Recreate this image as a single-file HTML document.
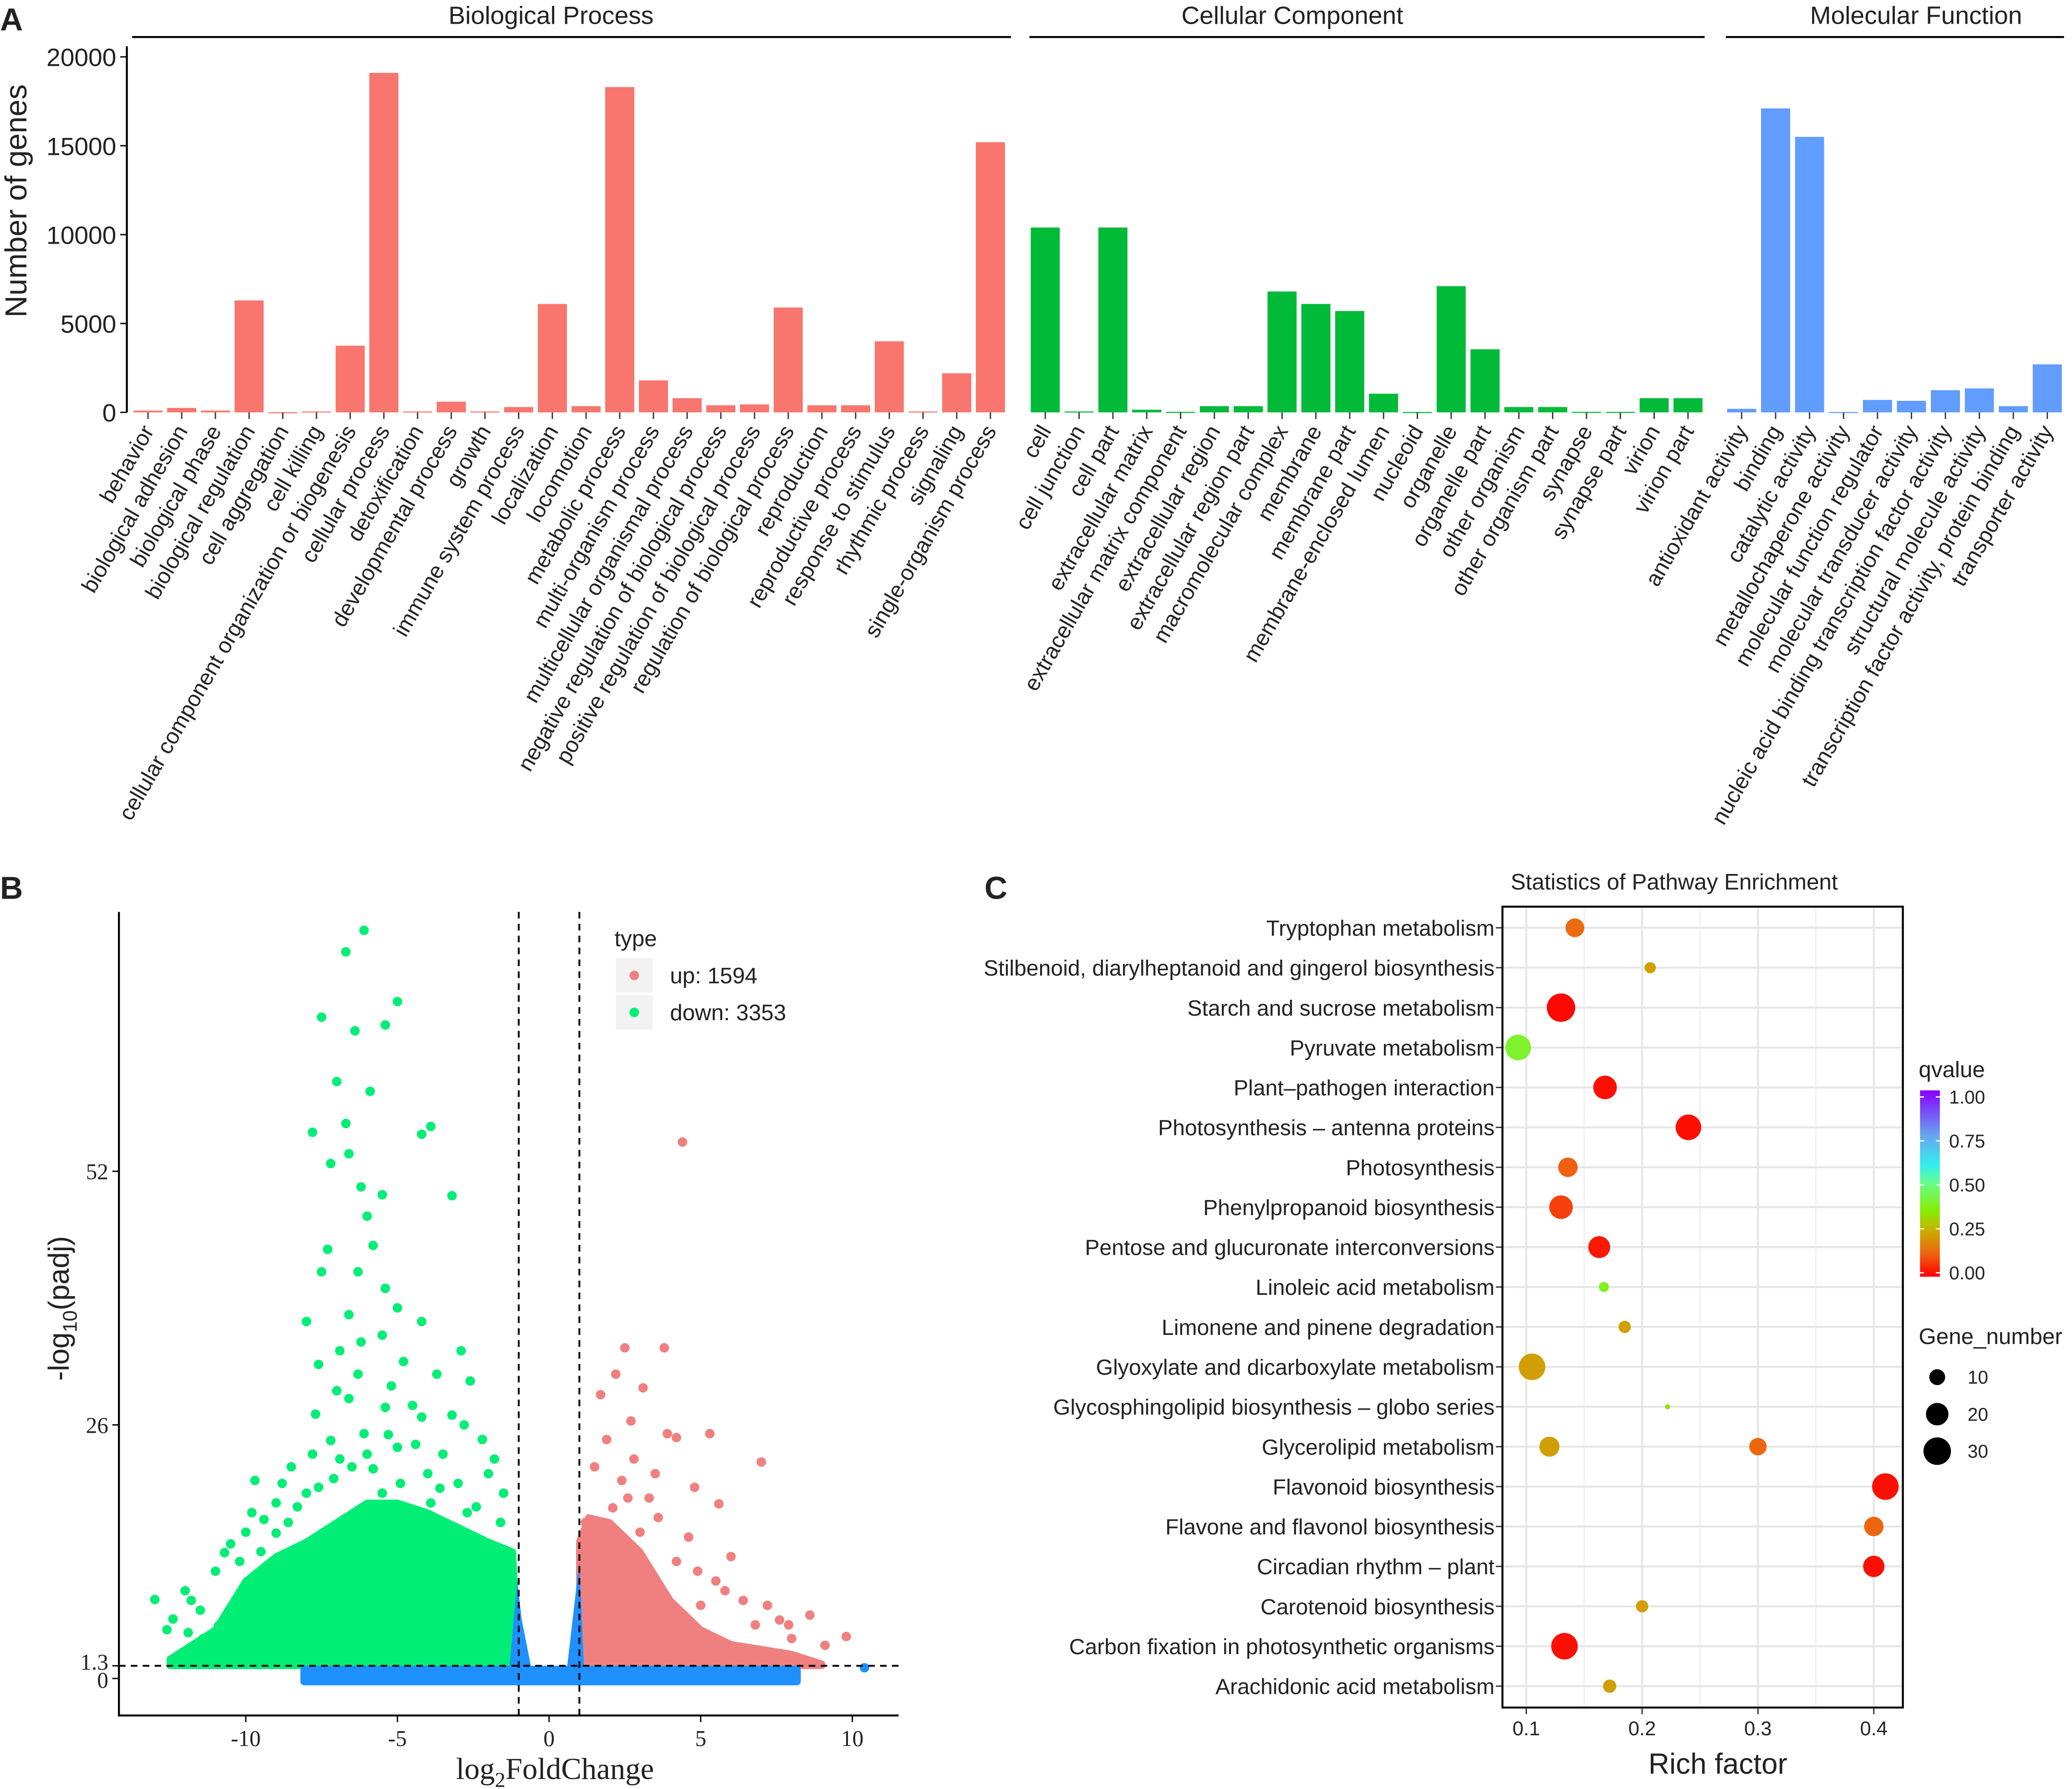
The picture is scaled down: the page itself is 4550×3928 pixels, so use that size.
<!DOCTYPE html>
<html><head><meta charset="utf-8"><style>
html,body{margin:0;padding:0;background:#fff;}
svg{display:block;}
text{font-family:"Liberation Sans",sans-serif;fill:#222;}
.serif{font-family:"Liberation Serif",serif;}
</style></head><body>
<svg id="root" width="4550" height="3928" viewBox="0 0 1568 1353.6" xmlns="http://www.w3.org/2000/svg">
<rect width="1568" height="1354" fill="#fff"/>
<g id="gA"></g>
<g id="gB"></g>
<g id="gC"></g>
</svg>
<script>
// ---- Panel A data ----
const bpCats=["behavior","biological adhesion","biological phase","biological regulation","cell aggregation","cell killing","cellular component organization or biogenesis","cellular process","detoxification","developmental process","growth","immune system process","localization","locomotion","metabolic process","multi-organism process","multicellular organismal process","negative regulation of biological process","positive regulation of biological process","regulation of biological process","reproduction","reproductive process","response to stimulus","rhythmic process","signaling","single-organism process"];
const bpVals=[100,250,100,6300,10,50,3750,19100,50,600,50,300,6100,350,18300,1800,800,400,450,5900,400,400,4000,50,2200,15200];
const ccCats=["cell","cell junction","cell part","extracellular matrix","extracellular matrix component","extracellular region","extracellular region part","macromolecular complex","membrane","membrane part","membrane-enclosed lumen","nucleoid","organelle","organelle part","other organism","other organism part","synapse","synapse part","virion","virion part"];
const ccVals=[10400,50,10400,150,30,350,350,6800,6100,5700,1050,20,7100,3550,300,300,30,30,800,800];
const mfCats=["antioxidant activity","binding","catalytic activity","metallochaperone activity","molecular function regulator","molecular transducer activity","nucleic acid binding transcription factor activity","structural molecule activity","transcription factor activity, protein binding","transporter activity"];
const mfVals=[200,17100,15500,20,700,650,1250,1350,350,2700];
const aTicks=[0,5000,10000,15000,20000];

// ---- Panel B data ----
const greenPts=[[-6.1,76.7],[-6.7,74.5],[-7.5,67.8],[-5.0,69.4],[-5.4,67],[-6.4,66.4],[-7.0,61.2],[-5.9,60.2],[-6.7,56.9],[-7.8,56],[-3.9,56.6],[-4.2,55.8],[-6.6,53.8],[-7.2,52.8],[-6.2,50.4],[-5.5,49.6],[-3.2,49.5],[-6.0,47.4],[-5.8,44.4],[-7.5,41.7],[-6.3,41.7],[-5.4,40],[-6.6,37.3],[-8.0,36.6],[-4.2,36.6],[-5.5,35.2],[-6.9,33.6],[-2.9,33.6],[-4.8,32.5],[-7.6,32.2],[-6.3,31.2],[-3.7,31.2],[-2.6,30.5],[-6.6,28.7],[-5.4,27.8],[-7.7,27.1],[-4.2,26.8],[-2.8,26],[-6.1,25.1],[-7.2,24.4],[-5,23.7],[-3.5,23],[-8.5,21.7],[-6.5,21.7],[-2.0,21],[-9.7,20.3],[-7.6,19.6],[-5.5,19],[-10.5,13.8],[-10.7,12.9],[-13,8.1],[-12.4,6.1],[-11.9,4.7],[-11.4,4.1],[-10.9,5.4],[-9.4,16.3],[-9,14.9],[-1.5,19],[-2.4,17.6],[-4.6,16.3],[-8.3,17.6],[-7.0,29.5],[-5.2,30],[-4.5,28],[-3.2,27],[-6.9,22.5],[-4.0,21],[-3.0,20],[-5.8,21.5],[-8.0,19],[-9.0,18],[-10.0,15],[-11.0,11],[-12.0,9],[-11.5,7],[-6.2,34.5],[-5.0,38],[-7.3,44],[-4.4,24],[-2.2,24.5],[-1.8,22.5],[-3.6,19.5],[-7.8,23],[-8.8,20],[-9.8,17],[-10.2,12],[-9.5,13],[-11.8,8],[-12.6,5],[-8.6,16],[-7.1,20.5],[-4.9,20],[-3.9,18],[-2.7,17],[-1.6,16],[-6.0,23],[-5.3,25]];
const redPts=[[4.4,55],[3.8,33.9],[2.5,33.9],[2.2,31.2],[3.1,29.8],[1.7,29.1],[3.9,25.1],[4.2,24.7],[5.3,25.1],[2.7,26.4],[7.0,22.2],[1.5,21.7],[3.5,21],[2.4,20.3],[5.6,17.9],[4.8,19.6],[7.2,7.5],[8.6,6.5],[9.1,3.4],[9.8,4.3],[8.0,4.1],[1.2,16],[2.1,17.5],[3.0,15],[4.2,12],[5.5,10],[6.4,8],[7.6,6],[3.3,18.5],[2.8,22.5],[1.9,24.5],[4.6,14.5],[6.0,12.5],[5.0,7.5],[6.8,5.5],[3.6,16.5],[4.9,11],[2.6,18.5],[5.8,9],[7.9,5.5]];
const bluePts=[[10.4,1.1]];
const greenEnvX=[-12.5,-11,-10,-9,-8,-7,-6,-5,-4,-3,-2,-1.2,-1.0];
const greenEnvY=[2,5,10,12.5,14,16,18,18,17,15.5,14,13,2];
const redEnvX=[1,1.3,2,3,4,5,6,7,8,9];
const redEnvY=[14,16.5,16,13,8,5,3.5,3,2.5,1.5];
const bTicksX=[-10,-5,0,5,10];
const bTicksY=[0,1.3,26,52];

// ---- Panel C data ----
const pathways=["Tryptophan metabolism","Stilbenoid, diarylheptanoid and gingerol biosynthesis","Starch and sucrose metabolism","Pyruvate metabolism","Plant\u2013pathogen interaction","Photosynthesis \u2013 antenna proteins","Photosynthesis","Phenylpropanoid biosynthesis","Pentose and glucuronate interconversions","Linoleic acid metabolism","Limonene and pinene degradation","Glyoxylate and dicarboxylate metabolism","Glycosphingolipid biosynthesis \u2013 globo series","Glycerolipid metabolism","Flavonoid biosynthesis","Flavone and flavonol biosynthesis","Circadian rhythm \u2013 plant","Carotenoid biosynthesis","Carbon fixation in photosynthetic organisms","Arachidonic acid metabolism"];
const ptRow=[0,1,2,3,4,5,6,7,8,9,10,11,12,13,13,14,15,16,17,18,19];
const ptRich=[0.142,0.207,0.13,0.093,0.168,0.24,0.136,0.13,0.163,0.167,0.185,0.105,0.222,0.12,0.3,0.41,0.40,0.40,0.2,0.133,0.172];
const ptQ=[0.14,0.22,0.01,0.4,0.02,0.02,0.12,0.08,0.03,0.38,0.22,0.22,0.33,0.22,0.13,0.02,0.13,0.02,0.22,0.02,0.22];
const ptGenes=[14,5,32,26,22,26,15,22,19,4,6,28,1,16,12,28,15,18,6,28,7];
const cTicks=[0.1,0.2,0.3,0.4];
const sizeLegend=[10,20,30];
const qTicks=[0,0.25,0.5,0.75,1];

const NS="http://www.w3.org/2000/svg";
function mk(tag,parent,attrs,txt){const e=document.createElementNS(NS,tag);for(const k in attrs)e.setAttribute(k,attrs[k]);if(txt!==undefined)e.textContent=txt;parent.appendChild(e);return e;}

// ===== Panel A =====
const gA=document.getElementById('gA');
const yA=v=>312-v*(312-43)/20000;
let t=mk('text',gA,{x:0,y:23,'font-size':24,'font-weight':'bold'},'A');

mk('line',gA,{x1:96,y1:35,x2:96,y2:312,stroke:'#000','stroke-width':1.5});
aTicks.forEach(v=>{
  mk('line',gA,{x1:91,y1:yA(v),x2:96,y2:yA(v),stroke:'#000'});
  const tt=mk('text',gA,{x:88,y:yA(v)+7,'font-size':19,'text-anchor':'end'},String(v));
  
});
t=mk('text',gA,{x:20,y:152,'font-size':23,'text-anchor':'middle',transform:'rotate(-90 20 152)'},'Number of genes');

const groups=[
 {name:'Biological Process',cats:bpCats,vals:bpVals,x0:112,step:25.5,color:'#f8766d',l1:100,l2:765,hx:417},
 {name:'Cellular Component',cats:ccCats,vals:ccVals,x0:791,step:25.6,color:'#00ba38',l1:779,l2:1290,hx:978},
 {name:'Molecular Function',cats:mfCats,vals:mfVals,x0:1318,step:25.7,color:'#619cff',l1:1306,l2:1562,hx:1450}];
groups.forEach(g=>{
  mk('line',gA,{x1:g.l1,y1:28,x2:g.l2,y2:28,stroke:'#000','stroke-width':1.5});
  const h=mk('text',gA,{x:g.hx,y:18,'font-size':19,'text-anchor':'middle'},g.name);
  
  g.cats.forEach((c,i)=>{
    const cx=g.x0+i*g.step;
    const v=g.vals[i];
    const top=yA(v);
    const b=mk('rect',gA,{x:cx-11,y:top,width:22,height:Math.max(312-top,0.8),fill:g.color});
    
    
    mk('line',gA,{x1:cx,y1:312,x2:cx,y2:317,stroke:'#333'});
    const lb=mk('text',gA,{x:cx+5,y:326,'font-size':16.8,'text-anchor':'end',transform:`rotate(-60 ${cx+5} 326)`},c);
    
  });
});

// ===== Panel B =====
const gB=document.getElementById('gB');
const xB=v=>186+(v+10)*22.95;
const yB=v=>1270-v*7.38;
t=mk('text',gB,{x:0,y:680,'font-size':24,'font-weight':'bold'},'B');

let pts=greenEnvX.map((x,i)=>xB(x)+','+yB(greenEnvY[i])).join(' ')+' '+xB(-1.0)+','+yB(1.3)+' '+xB(-12.5)+','+yB(1.3);
t=mk('polygon',gB,{points:pts,fill:'#00ee76',stroke:'#00ee76','stroke-width':5,'stroke-linejoin':'round'});

pts=redEnvX.map((x,i)=>xB(x)+','+yB(redEnvY[i])).join(' ')+' '+xB(9)+','+yB(1.3)+' '+xB(1)+','+yB(1.3);
t=mk('polygon',gB,{points:pts,fill:'#f08080',stroke:'#f08080','stroke-width':5,'stroke-linejoin':'round'});

t=mk('rect',gB,{x:xB(-8.2),y:yB(1.3),width:xB(8.3)-xB(-8.2),height:yB(-0.7)-yB(1.3),fill:'#1e90ff',rx:3});

mk('polygon',gB,{points:`${xB(-1.3)},${yB(1.3)} ${xB(-1.05)},${yB(10)} ${xB(-0.9)},${yB(6)} ${xB(-0.6)},${yB(1.3)}`,fill:'#1e90ff'});
mk('polygon',gB,{points:`${xB(0.6)},${yB(1.3)} ${xB(0.85)},${yB(8)} ${xB(1.0)},${yB(12)} ${xB(1.15)},${yB(1.3)}`,fill:'#1e90ff'});
greenPts.forEach(p=>{const c=mk('circle',gB,{cx:xB(p[0]),cy:yB(p[1]),r:3.6,fill:'#00ee76'});
  });
redPts.forEach(p=>{const c=mk('circle',gB,{cx:xB(p[0]),cy:yB(p[1]),r:3.6,fill:'#f08080'});
  });
bluePts.forEach(p=>{const c=mk('circle',gB,{cx:xB(p[0]),cy:yB(p[1]),r:3.6,fill:'#1e90ff'});
  });
mk('line',gB,{x1:xB(-1),y1:690,x2:xB(-1),y2:1298,stroke:'#000','stroke-dasharray':'5,4','stroke-width':1.4});
mk('line',gB,{x1:xB(1),y1:690,x2:xB(1),y2:1298,stroke:'#000','stroke-dasharray':'5,4','stroke-width':1.4});
mk('line',gB,{x1:90,y1:yB(1.3),x2:680,y2:yB(1.3),stroke:'#000','stroke-dasharray':'5,4','stroke-width':1.4});
mk('polyline',gB,{points:'90,690 90,1298 680,1298',fill:'none',stroke:'#000','stroke-width':1.5});
bTicksX.forEach(v=>{mk('line',gB,{x1:xB(v),y1:1298,x2:xB(v),y2:1303,stroke:'#000'});
  const tt=mk('text',gB,{x:xB(v),y:1321,'font-size':17,'text-anchor':'middle',class:'serif'},String(v));
  });
bTicksY.forEach(v=>{mk('line',gB,{x1:85,y1:yB(v),x2:90,y2:yB(v),stroke:'#000'});
  const tt=mk('text',gB,{x:82,y:yB(v)+(v===0?7:v===1.3?3:6),'font-size':17,'text-anchor':'end',class:'serif'},String(v));
  });
t=mk('text',gB,{x:420,y:1346,'font-size':23,'text-anchor':'middle',class:'serif'});

t.innerHTML='log<tspan font-size="16" dy="6">2</tspan><tspan dy="-6">FoldChange</tspan>';
t=mk('text',gB,{x:52,y:990,'font-size':22,'text-anchor':'middle',transform:'rotate(-90 52 990)'});

t.innerHTML='-log<tspan font-size="15" dy="6">10</tspan><tspan dy="-6">(padj)</tspan>';
t=mk('text',gB,{x:465,y:716,'font-size':17},'type');

[['up: 1594','#f08080',738],['down: 3353','#00ee76',766]].forEach(l=>{
  mk('rect',gB,{x:466,y:l[2]-13,width:28,height:26,fill:'#f2f2f2'});
  mk('circle',gB,{cx:480,cy:l[2],r:3.6,fill:l[1]});
  const tt=mk('text',gB,{x:507,y:l[2]+6,'font-size':17},l[0]);
  });

// ===== Panel C =====
const gC=document.getElementById('gC');
const xC=v=>1155+(v-0.1)*876.7;
const yC=i=>702+i*30.2;
const rC=n=>Math.sqrt(n)*1.9;
const stops=[[0,[255,0,0]],[0.12,[240,96,16]],[0.25,[200,176,0]],[0.35,[136,236,0]],[0.5,[102,255,136]],[0.6,[51,238,238]],[0.75,[102,170,238]],[1,[136,0,255]]];
function qcol(q){for(let i=1;i<stops.length;i++){if(q<=stops[i][0]){const a=stops[i-1],b=stops[i];const f=(q-a[0])/(b[0]-a[0]);const c=a[1].map((v,k)=>Math.round(v+(b[1][k]-v)*f));return `rgb(${c})`;}}return 'rgb(136,0,255)';}
t=mk('text',gC,{x:745,y:680,'font-size':24,'font-weight':'bold'},'C');

t=mk('text',gC,{x:1267,y:673,'font-size':17,'text-anchor':'middle'},'Statistics of Pathway Enrichment');

[0.15,0.25,0.35].forEach(v=>mk('line',gC,{x1:xC(v),y1:686,x2:xC(v),y2:1292,stroke:'#f0f0f0','stroke-width':1}));
cTicks.forEach(v=>mk('line',gC,{x1:xC(v),y1:686,x2:xC(v),y2:1292,stroke:'#e6e6e6','stroke-width':1.5}));
pathways.forEach((p,i)=>{mk('line',gC,{x1:1137,y1:yC(i),x2:1440,y2:yC(i),stroke:'#e6e6e6','stroke-width':1.5});
  mk('line',gC,{x1:1132,y1:yC(i),x2:1137,y2:yC(i),stroke:'#333'});
  const tt=mk('text',gC,{x:1131,y:yC(i)+6,'font-size':16.6,'text-anchor':'end'},p);
  });
ptRow.forEach((r,i)=>{const c=mk('circle',gC,{cx:xC(ptRich[i]),cy:yC(r),r:rC(ptGenes[i]),fill:qcol(ptQ[i])});
  });
mk('rect',gC,{x:1137,y:686,width:303,height:606,fill:'none',stroke:'#000','stroke-width':1.5});
cTicks.forEach(v=>{mk('line',gC,{x1:xC(v),y1:1292,x2:xC(v),y2:1297,stroke:'#333'});
  const tt=mk('text',gC,{x:xC(v),y:1313,'font-size':15,'text-anchor':'middle'},String(v));
  });
t=mk('text',gC,{x:1300,y:1342,'font-size':22,'text-anchor':'middle'},'Rich factor');

t=mk('text',gC,{x:1452,y:815,'font-size':17},'qvalue');

const defs=mk('defs',gC,{});
const lg=mk('linearGradient',defs,{id:'qg',x1:0,y1:1,x2:0,y2:0});
stops.forEach(s=>mk('stop',lg,{offset:s[0],'stop-color':`rgb(${s[1]})`}));
t=mk('rect',gC,{x:1453,y:825,width:15,height:141,fill:'url(#qg)'});

qTicks.forEach(q=>{const y=963-q*133;
  mk('line',gC,{x1:1453,y1:y,x2:1456,y2:y,stroke:'#fff'});mk('line',gC,{x1:1465,y1:y,x2:1468,y2:y,stroke:'#fff'});
  const tt=mk('text',gC,{x:1475,y:y+5,'font-size':14},q.toFixed(2));
  });
t=mk('text',gC,{x:1452,y:1017,'font-size':17},'Gene_number');

sizeLegend.forEach((n,i)=>{const y=1042+i*28;
  mk('circle',gC,{cx:1466,cy:y,r:rC(n),fill:'#000'});
  const tt=mk('text',gC,{x:1489,y:y+5,'font-size':14},String(n));
  });
</script>
</body></html>
